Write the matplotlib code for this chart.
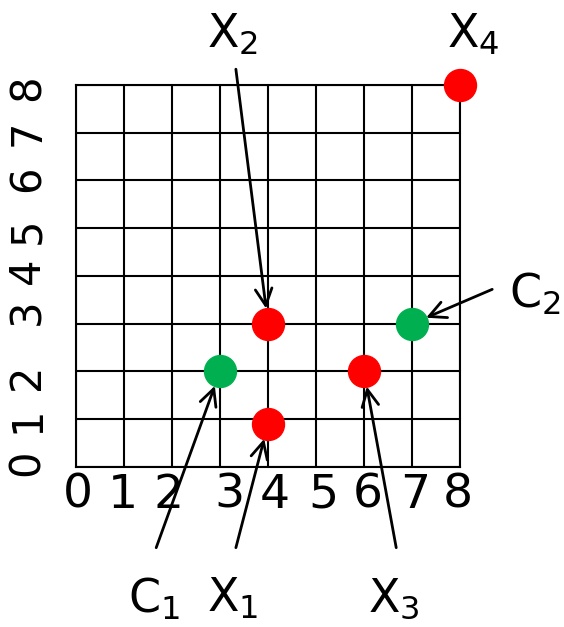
import matplotlib
matplotlib.use('Agg')
import matplotlib.pyplot as plt

plt.rcParams['font.family'] = 'DejaVu Sans'
plt.rcParams['mathtext.fontset'] = 'dejavusans'

# Points
red_x = [4, 4, 6, 8]
red_y = [0.9, 3, 2, 8]
green_x = [3, 7]
green_y = [2, 3]

# Tick labels (placed slightly off the grid lines, like the original)
xtick_pos = [0.04, 0.98, 1.92, 3.2, 4.15, 5.15, 6.08, 7.06, 7.96]
ytick_pos = [0.08, 0.98, 1.88, 3.26, 4.10, 4.94, 6.03, 7.0, 7.95]
tick_labels = ['0', '1', '2', '3', '4', '5', '6', '7', '8']

# Labels: (text, target point, arrow start, label position, alignment)
annots = [
    (r'$\mathrm{X}_2$', (4, 3), (3.33, 8.33), (2.73, 8.79), 'left'),
    (r'$\mathrm{X}_4$', None, None, (7.73, 8.79), 'left'),
    (r'$\mathrm{C}_2$', (7, 3), (8.67, 3.72), (10.1, 3.33), 'right'),
    (r'$\mathrm{C}_1$', (3, 2), (1.67, -1.69), (1.08, -3.05), 'left'),
    (r'$\mathrm{X}_1$', (4, 0.9), (3.33, -1.69), (2.73, -3.03), 'left'),
    (r'$\mathrm{X}_3$', (6, 2), (6.67, -1.69), (6.08, -3.03), 'left'),
]

fig = plt.figure(figsize=(5.64, 6.27), dpi=100)
ax = fig.add_axes([0.1348, 0.2552, 0.6809, 0.6093])
ax.set_xlim(0, 8)
ax.set_ylim(0, 8)

# grid
for v in range(9):
    ax.axvline(v, color='black', lw=1.5, zorder=1)
    ax.axhline(v, color='black', lw=1.5, zorder=1)
for s in ax.spines.values():
    s.set_linewidth(1.5)

ax.set_xticks(xtick_pos)
ax.set_xticklabels(tick_labels, fontsize=34)
ax.set_yticks(ytick_pos)
ax.set_yticklabels(tick_labels, fontsize=30, rotation=90, va='center')
ax.tick_params(length=0)
ax.tick_params(axis='x', pad=4)
ax.tick_params(axis='y', pad=20)

ax.plot(red_x, red_y, 'o', color='#FF0000', markersize=23, zorder=5, clip_on=False)
ax.plot(green_x, green_y, 'o', color='#00B050', markersize=23, zorder=5, clip_on=False)

for text, target, start, pos, ha in annots:
    if target is not None:
        ax.annotate('', xy=target, xytext=start,
                    arrowprops=dict(arrowstyle='->', color='black', lw=2,
                                    shrinkA=0, shrinkB=11, mutation_scale=30),
                    annotation_clip=False, zorder=6)
    ax.text(pos[0], pos[1], text, fontsize=33, ha=ha, va='baseline')

fig.savefig('out.png', dpi=100)
